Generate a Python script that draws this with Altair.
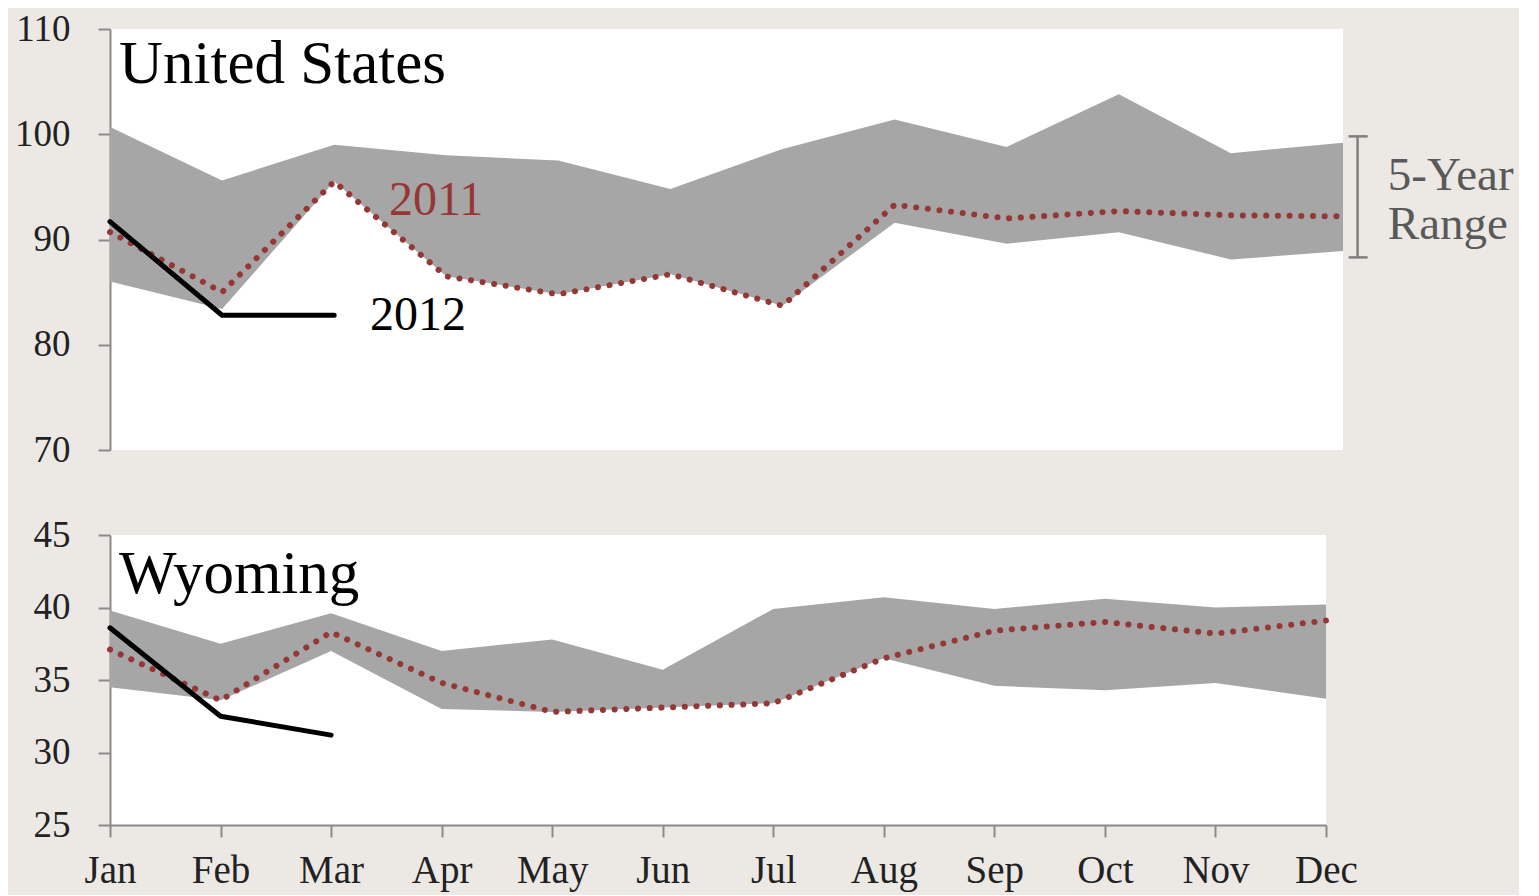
import altair as alt
import pandas as pd

months = ["Jan", "Feb", "Mar", "Apr", "May", "Jun", "Jul", "Aug", "Sep", "Oct", "Nov", "Dec"]

us_hi = [100.7, 95.6, 99.0, 98.0, 97.5, 94.8, 98.6, 101.4, 98.8, 103.8, 98.2, 99.2]
us_lo = [86.0, 83.4, 95.5, 86.5, 84.8, 86.7, 83.7, 91.6, 89.6, 90.7, 88.1, 88.9]
us_2011 = [90.7, 85.0, 95.5, 86.5, 84.8, 86.7, 83.7, 93.3, 92.0, 92.7, 92.3, 92.2]
us_2012 = [91.7, 82.8, 82.8]

wy_hi = [39.8, 37.5, 39.6, 37.0, 37.8, 35.7, 39.9, 40.7, 39.9, 40.6, 40.0, 40.2]
wy_lo = [34.5, 33.6, 37.0, 33.0, 32.8, 33.1, 33.4, 36.5, 34.6, 34.3, 34.8, 33.7]
wy_2011 = [37.1, 33.6, 38.3, 34.8, 32.8, 33.1, 33.4, 36.5, 38.4, 39.0, 38.2, 39.1]
wy_2012 = [38.6, 32.5, 31.2]

FONT = "Liberation Serif"
RED = "#953735"
BAND = "#a6a6a6"
AXIS = "#8a8a8a"
LABEL = "#222222"

month_expr = "[" + ",".join("'%s'" % m for m in months) + "][datum.value]"


def panel(hi, lo, v11, v12, ydom, ystep, width, height, show_x, title, title_y, annotate):
    xs = alt.Scale(domain=[0, 11], nice=False, zero=False)
    ys = alt.Scale(domain=ydom, nice=False, zero=False)
    if show_x:
        xaxis = alt.Axis(values=list(range(12)), labelExpr=month_expr, title=None, grid=False,
                         tickSize=12, tickWidth=2, tickColor=AXIS, domainColor=AXIS, domainWidth=2,
                         labelPadding=14, labelFont=FONT, labelFontSize=39, labelColor=LABEL,
                         labelFlush=False, labelOverlap=False)
    else:
        xaxis = None
    yaxis = alt.Axis(values=list(range(ydom[0], ydom[1] + 1, ystep)), title=None, grid=False,
                     tickSize=12, tickWidth=2, tickColor=AXIS, domainColor=AXIS, domainWidth=2,
                     labelPadding=28, labelFont=FONT, labelFontSize=37, labelColor=LABEL,
                     labelFlush=False, labelOverlap=False)
    X = alt.X("m:Q", scale=xs, axis=xaxis)
    Y = alt.Y("v:Q", scale=ys, axis=yaxis)

    band = pd.DataFrame({"m": list(range(12)), "v": lo, "v2": hi})
    d11 = pd.DataFrame({"m": list(range(len(v11))), "v": v11})
    d12 = pd.DataFrame({"m": list(range(len(v12))), "v": v12})

    area = alt.Chart(band).mark_area(color=BAND, opacity=1).encode(x=X, y=Y, y2="v2:Q")
    l11 = alt.Chart(d11).mark_line(color=RED, strokeWidth=6, strokeDash=[0.1, 11.6],
                                   strokeCap="round").encode(x=X, y=Y)
    l12 = alt.Chart(d12).mark_line(color="black", strokeWidth=5, strokeCap="round",
                                   strokeJoin="round").encode(x=X, y=Y)
    ttl = alt.Chart(pd.DataFrame({"t": [title]})).mark_text(
        align="left", baseline="alphabetic", font=FONT, fontSize=61, color="black"
    ).encode(x=alt.value(9), y=alt.value(title_y), text="t:N")
    layers = [area, l11, l12, ttl]

    if annotate:
        lab = pd.DataFrame({"m": [2.49, 2.32], "v": [92.3, 81.4], "t": ["2011", "2012"],
                            "c": [RED, "black"]})
        labels = alt.Chart(lab).mark_text(align="left", baseline="alphabetic", font=FONT,
                                          fontSize=48).encode(
            x=X, y=Y, text="t:N", color=alt.Color("c:N", scale=None))
        vr = alt.Chart(pd.DataFrame({"m": [11.13], "v": [99.8], "v2": [88.3]})).mark_rule(
            color="#7f7f7f", strokeWidth=2.5).encode(x=X, y=Y, y2="v2:Q")
        caps = alt.Chart(pd.DataFrame({"m": [11.05, 11.05], "m2": [11.22, 11.22],
                                       "v": [99.8, 88.3]})).mark_rule(
            color="#7f7f7f", strokeWidth=2.5).encode(x=X, x2="m2:Q", y=Y)
        rng = alt.Chart(pd.DataFrame({"m": [11.40, 11.40], "v": [94.7, 90.05],
                                      "t": ["5-Year", "Range"]})).mark_text(
            align="left", baseline="alphabetic", font=FONT, fontSize=47, color="#595959"
        ).encode(x=X, y=Y, text="t:N")
        layers += [labels, vr, caps, rng]

    return alt.layer(*layers).properties(width=width, height=height)


top = panel(us_hi, us_lo, us_2011, us_2012, [70, 110], 10, 1233, 421, False,
            "United States", 54, True)
bottom = panel(wy_hi, wy_lo, wy_2011, wy_2012, [25, 45], 5, 1216, 290, True,
               "Wyoming", 58, False)

chart = alt.vconcat(top, bottom, spacing=85, bounds="flush").resolve_scale(
    x="independent", y="independent"
).properties(
    padding={"left": 6, "top": 2, "right": 5, "bottom": 5}
).configure(background="#ece9e5").configure_view(fill="white", strokeWidth=0)

chart.save("out.html", embed_options={"renderer": "svg", "actions": False})
